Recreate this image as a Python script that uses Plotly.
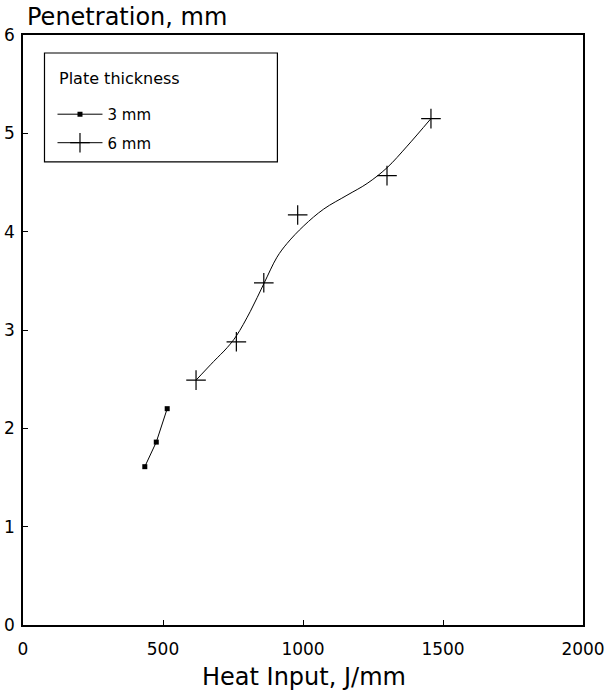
import plotly.graph_objects as go

# ---- data ----
heat_3mm = [435, 476, 515]
pen_3mm = [1.61, 1.86, 2.20]

heat_6mm = [618, 762, 860, 981, 1300, 1457]
pen_6mm = [2.49, 2.88, 3.48, 4.17, 4.57, 5.15]

# smooth fitted curve for the 6 mm series
curve_heat_6mm = [618, 681, 729, 762, 812, 860, 907, 943, 1003, 1074, 1157, 1229, 1300, 1372, 1457]
curve_pen_6mm = [2.49, 2.68, 2.82, 2.94, 3.19, 3.47, 3.74, 3.88, 4.06, 4.23, 4.37, 4.49, 4.65, 4.87, 5.15]

x_ticks = [0, 500, 1000, 1500, 2000]
y_ticks = [0, 1, 2, 3, 4, 5, 6]

FONT = "DejaVu Sans"
W, H = 609, 697
ML, MR, MT, MB = 22.5, 26.3, 35, 71.5
PW, PH = W - ML - MR, H - MT - MB


def px_x(p):
    return (p - ML) / PW


def px_y(p):
    return (H - MB - p) / PH


fig = go.Figure()

# 3 mm series
fig.add_trace(go.Scatter(
    x=heat_3mm, y=pen_3mm, mode="lines+markers", name="3 mm",
    line=dict(color="black", width=1),
    marker=dict(symbol="square", size=5, color="black"),
    legendgroup="a",
))

# 6 mm fitted curve
fig.add_trace(go.Scatter(
    x=curve_heat_6mm, y=curve_pen_6mm, mode="lines", line_shape="spline",
    line=dict(color="black", width=1), showlegend=False, hoverinfo="skip",
))
# 6 mm data points
fig.add_trace(go.Scatter(
    x=heat_6mm, y=pen_6mm, mode="markers", showlegend=False,
    marker=dict(symbol="cross-thin", size=14, line=dict(color="black", width=1.2)),
))
# legend entry for 6 mm (line + cross)
fig.add_trace(go.Scatter(
    x=[None], y=[None], mode="lines+markers", name="6 mm",
    line=dict(color="black", width=1),
    marker=dict(symbol="cross-thin", size=14, line=dict(color="black", width=1.2)),
    legendgroup="b",
))

axis_common = dict(
    showline=True, linecolor="black", linewidth=1.5, mirror=True,
    ticks="inside", ticklen=5, tickwidth=1, tickcolor="black",
    showgrid=False, zeroline=False, automargin=False,
    tickfont=dict(family=FONT, size=17, color="black"),
)

fig.update_layout(
    width=W, height=H,
    margin=dict(l=ML, r=MR, t=MT, b=MB, autoexpand=False),
    paper_bgcolor="white", plot_bgcolor="white",
    font=dict(family=FONT, color="black"),
    xaxis=dict(range=[0, 2000], tickvals=x_ticks, ticktext=[str(v) for v in x_ticks],
               ticklabelstandoff=8, **axis_common),
    yaxis=dict(range=[0, 6], tickvals=y_ticks, ticktext=[str(v) for v in y_ticks],
               ticklabelstandoff=3, **axis_common),
    legend=dict(
        x=px_x(52), y=px_y(98), xanchor="left", yanchor="top",
        bgcolor="rgba(0,0,0,0)", borderwidth=0,
        font=dict(family=FONT, size=15, color="black"),
        itemwidth=45, traceorder="grouped", tracegroupgap=6,
    ),
    shapes=[dict(type="rect", xref="paper", yref="paper",
                 x0=px_x(44), x1=px_x(277), y0=px_y(162), y1=px_y(53),
                 line=dict(color="black", width=1.2), fillcolor="rgba(0,0,0,0)")],
    annotations=[
        dict(text="Plate thickness", xref="paper", yref="paper",
             x=px_x(57), y=px_y(79), xanchor="left", yanchor="middle",
             showarrow=False, font=dict(family=FONT, size=16, color="black")),
        dict(text="Penetration, mm", xref="paper", yref="paper",
             x=px_x(25), y=px_y(17), xanchor="left", yanchor="middle",
             showarrow=False, font=dict(family=FONT, size=24, color="black")),
        dict(text="Heat Input, J/mm", xref="paper", yref="paper",
             x=px_x(304), y=px_y(678), xanchor="center", yanchor="middle",
             showarrow=False, font=dict(family=FONT, size=24, color="black")),
    ],
)

fig.write_html("out.html",
               config={"displayModeBar": False},
               post_script="document.body.style.margin='0';document.body.style.overflow='hidden';")
